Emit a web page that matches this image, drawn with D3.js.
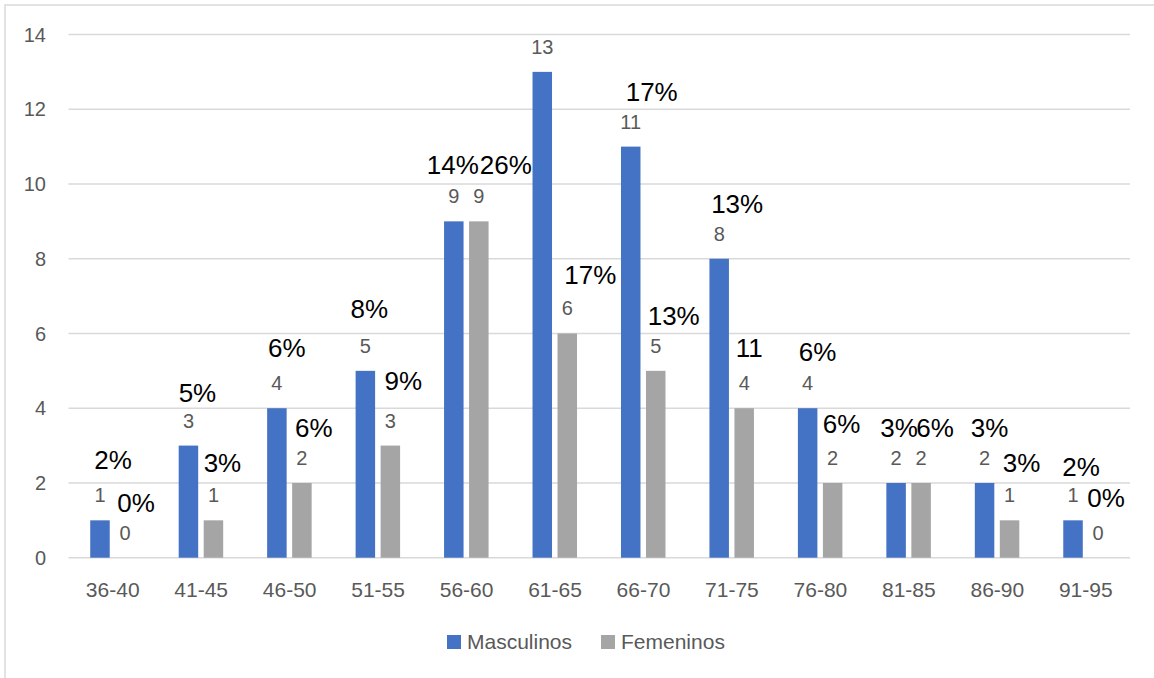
<!DOCTYPE html>
<html>
<head>
<meta charset="utf-8">
<script src="https://cdn.jsdelivr.net/npm/d3@7"></script>
<style>
body{margin:0;background:#fff;}
text{font-family:"Liberation Sans",Arial,sans-serif;}
</style>
</head>
<body>
<script>
// datos
var categorias = ["36-40","41-45","46-50","51-55","56-60","61-65","66-70","71-75","76-80","81-85","86-90","91-95"];
var masculinos = [1,3,4,5,9,13,11,8,4,2,2,1];
var femeninos = [0,1,2,3,9,6,5,4,2,2,1,0];
var pctMasculinos = ["2%","5%","6%","8%","14%","","17%","13%","6%","3%","3%","2%"];
var pctFemeninos = ["0%","3%","6%","9%","26%","17%","13%","11","6%","6%","3%","0%"];
var yTicks = [0,2,4,6,8,10,12,14];
var series = ["Masculinos","Femeninos"];

// ajustes de posicion de las etiquetas de porcentaje [dx, alto sobre la barra]
var ajusteM = [[13,51],[9,44],[10,51],[4,53],[-1,47],[0,47],[21,46],[18,46],[10,47],[3,46],[5,46],[8,44]];
var ajusteF = [[11,46],[9,48],[12,46],[13,56],[27,47],[23,49],[18,46],[5,51],[9,50],[14,46],[12,48],[8,51]];

var colores = {Masculinos:"#4472C4", Femeninos:"#A5A5A5"};

var svg = d3.select("body")
			.append("svg")
			.attr("width",1154)
			.attr("height",678);

svg.append("rect")
	.attr("x",5).attr("y",5)
	.attr("width",1170).attr("height",690)
	.attr("fill","#fff")
	.attr("stroke","#d9d9d9")
	.attr("stroke-width",1.5);

var x = d3.scaleBand()
		.domain(categorias)
		.range([68.5,1130])
		.padding(0);

var xs = d3.scaleBand()
		.domain(series)
		.range([-22.5,22])
		.paddingInner(0.22);

var y = d3.scaleLinear()
		.domain([0,14])
		.range([557.7,34.5]);

var g = svg.append("g");

// lineas de division
g.selectAll("line.grid")
	.data(yTicks)
	.enter()
	.append("line")
	.attr("class","grid")
	.attr("x1",68.5).attr("x2",1130)
	.attr("y1",function(d){return y(d);})
	.attr("y2",function(d){return y(d);})
	.attr("stroke","#d9d9d9")
	.attr("stroke-width",1.5);

// eje y
g.selectAll("text.ytick")
	.data(yTicks)
	.enter()
	.append("text")
	.attr("class","ytick")
	.attr("x",46)
	.attr("y",function(d){return y(d);})
	.attr("dy","0.36em")
	.attr("text-anchor","end")
	.attr("font-size",20)
	.attr("fill","#595959")
	.text(function(d){return d;});

// eje x
g.selectAll("text.xtick")
	.data(categorias)
	.enter()
	.append("text")
	.attr("class","xtick")
	.attr("x",function(d){return x(d)+x.bandwidth()/2;})
	.attr("y",597)
	.attr("text-anchor","middle")
	.attr("font-size",21)
	.attr("fill","#595959")
	.text(function(d){return d;});

var filas = categorias.map(function(c,i){
	return [
		{cat:c, serie:"Masculinos", v:masculinos[i], pct:pctMasculinos[i], aj:ajusteM[i]},
		{cat:c, serie:"Femeninos", v:femeninos[i], pct:pctFemeninos[i], aj:ajusteF[i]}
	];
});
var todos = [].concat.apply([],filas);

var cx = function(d){ return x(d.cat)+x.bandwidth()/2+xs(d.serie)+xs.bandwidth()/2; };

// barras
g.selectAll("rect.bar")
	.data(todos.filter(function(d){return d.v>0;}))
	.enter()
	.append("rect")
	.attr("class","bar")
	.attr("x",function(d){return x(d.cat)+x.bandwidth()/2+xs(d.serie);})
	.attr("width",xs.bandwidth())
	.attr("y",function(d){return y(d.v);})
	.attr("height",function(d){return y(0)-y(d.v);})
	.attr("fill",function(d){return colores[d.serie];});

// etiquetas de valor
g.selectAll("text.val")
	.data(todos)
	.enter()
	.append("text")
	.attr("class","val")
	.attr("x",cx)
	.attr("y",function(d){return y(d.v)-18;})
	.attr("text-anchor","middle")
	.attr("font-size",20)
	.attr("fill","#595959")
	.text(function(d){return d.v;});

// etiquetas de porcentaje
g.selectAll("text.pct")
	.data(todos.filter(function(d){return d.pct!=="";}))
	.enter()
	.append("text")
	.attr("class","pct")
	.attr("x",function(d){return cx(d)+d.aj[0];})
	.attr("y",function(d){return y(d.v)-d.aj[1];})
	.attr("text-anchor","middle")
	.attr("font-size",26)
	.attr("fill","#000")
	.text(function(d){return d.pct;});

// leyenda
var ley = g.selectAll("g.ley")
	.data(series)
	.enter()
	.append("g")
	.attr("class","ley")
	.attr("transform",function(d,i){return "translate("+(447+154*i)+",635)";});
ley.append("rect")
	.attr("width",14).attr("height",14)
	.attr("fill",function(d){return colores[d];});
ley.append("text")
	.attr("x",20).attr("y",14)
	.attr("font-size",21)
	.attr("fill","#595959")
	.text(function(d){return d;});
</script>
</body>
</html>
